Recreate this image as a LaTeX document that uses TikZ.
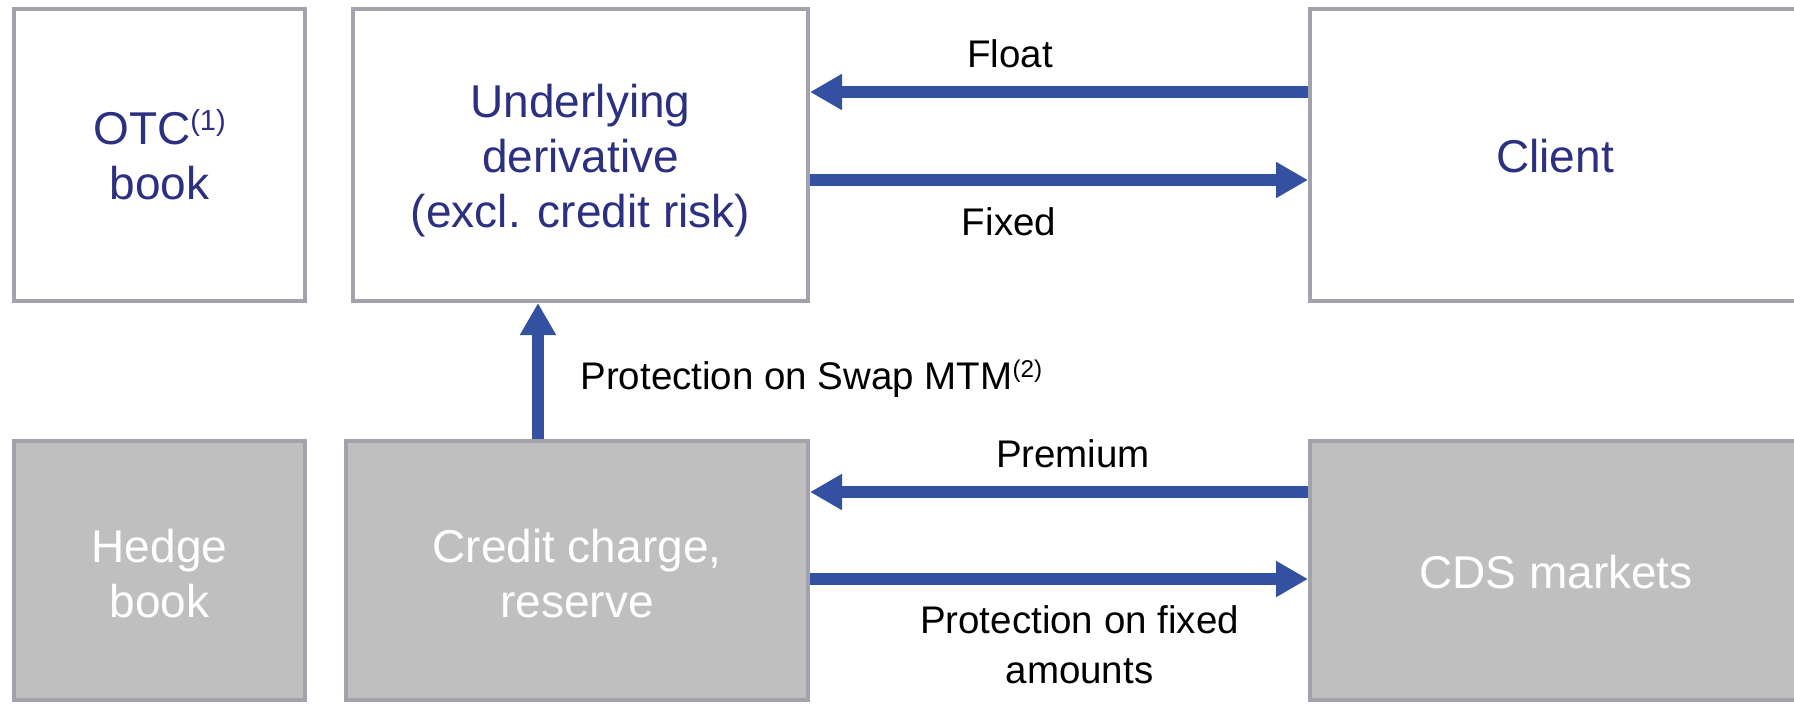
\documentclass[tikz,border=0pt]{standalone}
\usepackage{fontspec}
\usepackage{graphicx}
\setmainfont{Liberation Sans}
\usetikzlibrary{arrows.meta,calc}
\definecolor{boxline}{RGB}{162,162,172}
\definecolor{boxfill}{RGB}{191,191,191}
\definecolor{navy}{RGB}{43,48,128}
\definecolor{flowblue}{RGB}{52,80,160}
\newcommand{\supmark}[1]{\raisebox{0.3em}{\scalebox{0.63}{#1}}}
\tikzset{
  box/.style={draw=boxline, line width=2pt, rectangle, inner sep=0pt},
  topbox/.style={box, fill=white},
  botbox/.style={box, fill=boxfill},
  maintext/.style={font=\fontsize{23}{27.5}\selectfont, align=center, inner sep=0pt, anchor=base},
  flowlabel/.style={font=\fontsize{19.25}{25}\selectfont, align=center, inner sep=0pt, anchor=base, text=black},
  flow/.style={draw=flowblue, line width=5.75pt, -{Triangle[length=16pt,width=17pt]}}
}
\begin{document}
\begin{tikzpicture}[x=0.5pt,y=-0.5pt]
\useasboundingbox (0,0) rectangle (1794,703);
% boxes
\node[topbox, minimum width=145.5pt, minimum height=146pt] (otc) at (159.5,155) {};
\node[topbox, minimum width=227.5pt, minimum height=146pt] (und) at (580.5,155) {};
\node[topbox, minimum width=245pt, minimum height=146pt] (client) at (1555,155) {};
\node[botbox, minimum width=145.5pt, minimum height=129.5pt] (hedge) at (159.5,570.5) {};
\node[botbox, minimum width=231pt, minimum height=129.5pt] (credit) at (577,570.5) {};
\node[botbox, minimum width=245pt, minimum height=129.5pt] (cds) at (1555,570.5) {};
% box texts (base anchor = baseline of last line)
\node[maintext, text=navy] (otct) at (159.5,199) {OTC\supmark{(1)}\\book};
\node[maintext, text=navy] (undt) at (580.5,227) {Underlying\\derivative\\(excl. credit risk)};
\node[maintext, text=navy] (clientt) at (1555,172) {Client};
\node[maintext, text=white] (hedget) at (159.5,617) {Hedge\\book};
\node[maintext, text=white] (creditt) at (577,617) {Credit charge,\\reserve};
\node[maintext, text=white] (cdst) at (1556,588) {CDS markets};
% connector levels
\coordinate (yfloat) at (0,92);
\coordinate (yfixed) at (0,180);
\coordinate (yprem) at (0,492);
\coordinate (yprot) at (0,579);
\coordinate (xv) at (538,0);
% connectors
\draw[flow] (client.west |- yfloat) -- (und.east |- yfloat);
\draw[flow] (und.east |- yfixed) -- (client.west |- yfixed);
\draw[flow] (cds.west |- yprem) -- (credit.east |- yprem);
\draw[flow] (credit.east |- yprot) -- (cds.west |- yprot);
\draw[flow] (credit.north -| xv) -- (und.south -| xv);
% labels
\node[flowlabel] (lfloat) at (1010,67) {Float};
\node[flowlabel] (lfixed) at (1009,235) {Fixed};
\node[flowlabel] (lprem) at (1073,467) {Premium};
\node[flowlabel] (lprot) at (1079.5,683) {Protection on fixed\\amounts};
\node[flowlabel, anchor=base west] (lswap) at (580,389) {Protection on Swap MTM\supmark{(2)}};
\end{tikzpicture}
\end{document}
